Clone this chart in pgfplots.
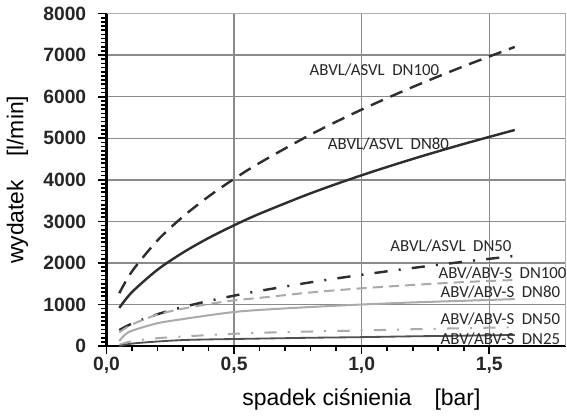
\documentclass[border=0pt]{standalone}
\usepackage{pgfplots}
\pgfplotsset{compat=1.18}
\usepackage{fontspec}
\setmainfont{Liberation Sans}
\newfontfamily\calib{Carlito}

\definecolor{curvedark}{HTML}{2E2E2E}
\definecolor{curvegrey}{HTML}{ABABAB}
\definecolor{lowdark}{HTML}{505050}
\definecolor{gridgrey}{HTML}{8A8A8A}

\tikzset{lbl/.style={font=\calib\fontsize{8.3}{10}\selectfont, text=black!85, inner sep=0pt}}

\begin{document}
\begin{tikzpicture}
\begin{axis}[
    scale only axis,
    width=226.5pt, height=164pt,
    xmin=0, xmax=1.8, ymin=0, ymax=8000,
    xtick={0,0.5,1,1.5},
    ytick={0,1000,...,8000},
    minor x tick num=4,
    minor y tick num=9,
    axis lines=left,
    axis line style={-, line width=1.2pt, black},
    tick align=outside,
    major tick length=4pt,
    minor tick length=2.5pt,
    tick style={black, line width=0.8pt},
    grid=major,
    major grid style={gridgrey, line width=0.7pt},
    xticklabel style={yshift=2pt, /pgf/number format/fixed, /pgf/number format/fixed zerofill,
        /pgf/number format/precision=1, /pgf/number format/use comma},
    yticklabel style={xshift=-2.5pt, /pgf/number format/1000 sep={}},
    scaled y ticks=false,
    /pgf/number format/assume math mode=true,
    ticklabel style={font=\bfseries\fontsize{9.5}{11}\selectfont, color=black!85},
    xlabel={spadek ciśnienia\quad[bar]},
    ylabel={wydatek\quad[l/min]},
    label style={font=\fontsize{11.3}{13}\selectfont},
    xlabel style={at={(axis description cs:0.555,-0.16)}, anchor=center},
    ylabel style={at={(axis description cs:-0.194,0.5)}, anchor=center},
    clip=false,
    every axis plot/.append style={smooth},
]

% frame on top and right
\draw[gridgrey!70, line width=0.5pt] (rel axis cs:0,1) -- (rel axis cs:1,1) -- (rel axis cs:1,0);

% ABVL/ASVL DN100
\addplot[curvedark, line width=1.2pt, dash pattern=on 6.5pt off 4pt] coordinates {
    (0.05,1272) (0.1,1799) (0.2,2545) (0.3,3116) (0.4,3599) (0.5,4023)
    (0.6,4407) (0.8,5089) (1.0,5690) (1.2,6233) (1.4,6732) (1.6,7197)
};
% ABVL/ASVL DN80
\addplot[curvedark, line width=1.2pt] coordinates {
    (0.05,919) (0.1,1300) (0.2,1838) (0.3,2251) (0.4,2600) (0.5,2906)
    (0.6,3184) (0.8,3676) (1.0,4110) (1.2,4502) (1.4,4863) (1.6,5199)
};
% ABVL/ASVL DN50
\addplot[curvedark, line width=1.2pt, dash pattern=on 6.5pt off 5.5pt on 1pt off 5.5pt] coordinates {
    (0.05,384) (0.1,542) (0.2,767) (0.3,939) (0.4,1085) (0.5,1213)
    (0.6,1328) (0.8,1534) (1.0,1715) (1.2,1879) (1.4,2029) (1.6,2169)
};
% ABV/ABV-S DN100
\addplot[curvegrey, line width=1pt, dash pattern=on 5pt off 3pt] coordinates {
    (0.05,330) (0.1,520) (0.2,760) (0.3,900) (0.4,1010) (0.5,1100)
    (0.6,1160) (0.8,1290) (1.0,1390) (1.2,1470) (1.4,1540) (1.6,1590)
};
% ABV/ABV-S DN80
\addplot[curvegrey, line width=1pt] coordinates {
    (0.05,120) (0.07,260) (0.1,370) (0.2,550) (0.3,650) (0.4,740) (0.5,820)
    (0.6,870) (0.8,940) (1.0,1000) (1.2,1050) (1.4,1090) (1.6,1130)
};
% ABV/ABV-S DN50
\addplot[curvegrey, line width=1pt, dash pattern=on 6pt off 5.5pt on 1pt off 5.5pt] coordinates {
    (0.05,30) (0.1,120) (0.2,190) (0.3,230) (0.4,265) (0.5,295)
    (0.6,320) (0.8,350) (1.0,375) (1.2,405) (1.4,430) (1.6,455)
};
% ABV/ABV-S DN25
\addplot[lowdark, line width=0.9pt] coordinates {
    (0.05,0) (0.1,60) (0.2,110) (0.3,145) (0.4,160) (0.5,170)
    (0.6,180) (0.8,200) (1.0,215) (1.2,235) (1.4,250) (1.6,268)
};

\node[lbl] at (axis cs:1.05,6630) {ABVL/ASVL\ \ DN100};
\node[lbl] at (axis cs:1.105,4854) {ABVL/ASVL\ \ DN80};
\node[lbl] at (axis cs:1.35,2415) {ABVL/ASVL\ \ DN50};
\node[lbl] at (axis cs:1.552,1756) {ABV/ABV-S\ \ DN100};
\node[lbl] at (axis cs:1.544,1293) {ABV/ABV-S\ \ DN80};
\node[lbl] at (axis cs:1.544,641) {ABV/ABV-S\ \ DN50};
\node[lbl] at (axis cs:1.544,171) {ABV/ABV-S\ \ DN25};
\end{axis}
\end{tikzpicture}
\end{document}
